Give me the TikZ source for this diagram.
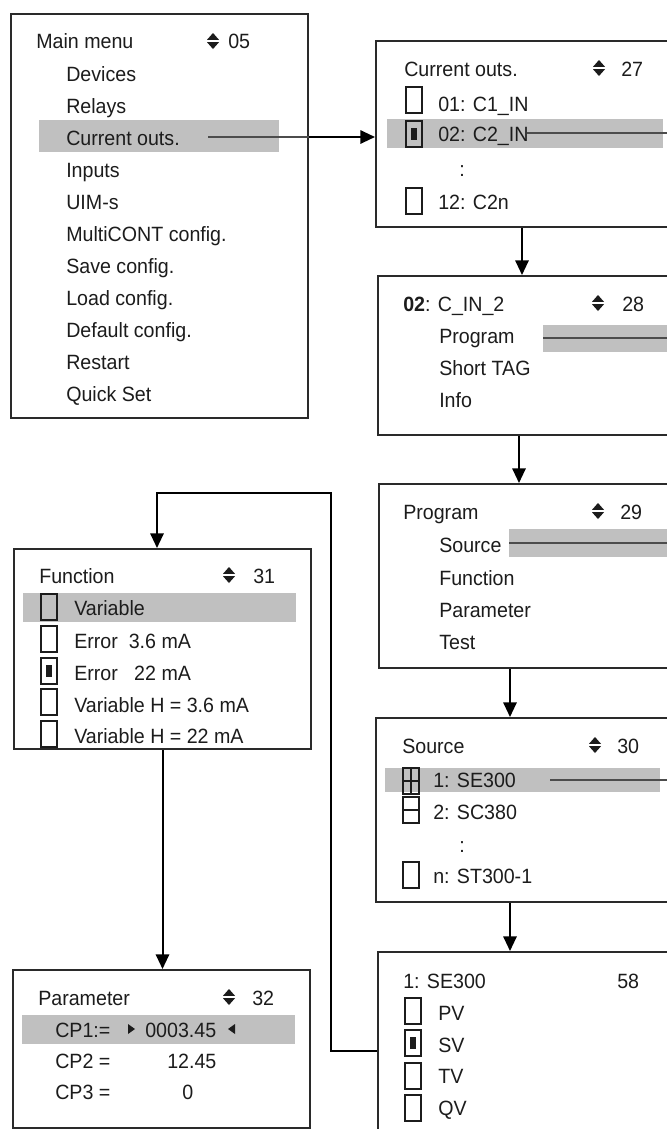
\documentclass[tikz,border=0pt]{standalone}
\usepackage{fontspec}
\setmainfont{Liberation Sans}[FakeStretch=0.95]
\usetikzlibrary{positioning,arrows.meta}
\definecolor{panelink}{HTML}{1C1C1C}
\definecolor{selgray}{HTML}{C0C0C0}
\definecolor{frameink}{HTML}{2A2A2A}

\begin{document}
\begin{tikzpicture}[x=0.75pt, y=-0.75pt,
  screen/.style={draw=frameink, line width=1.5pt, anchor=north west, inner sep=0pt},
  lbl/.style={anchor=base west, inner sep=0pt, text=panelink, font=\fontsize{15.5}{18}\selectfont},
  chk/.style={draw=panelink, line width=0.9pt, minimum width=12pt, minimum height=19.5pt, inner sep=0pt},
  chkon/.style={chk, path picture={\fill[panelink] ([xshift=-2.3pt,yshift=-4.8pt]path picture bounding box.center) rectangle ([xshift=2.3pt,yshift=4.8pt]path picture bounding box.center);}},
  chkplus/.style={chk, path picture={\draw[panelink, line width=0.9pt] (path picture bounding box.west) -- (path picture bounding box.east); \draw[panelink, line width=1.8pt] (path picture bounding box.north) -- (path picture bounding box.south);}},
  chkminus/.style={chk, path picture={\draw[panelink, line width=0.9pt] (path picture bounding box.west) -- (path picture bounding box.east);}},
  link/.style={line width=1.5pt, draw=black},
  arr/.style={link, -{Triangle[length=11pt,width=10pt]}},
  selline/.style={line width=0.8pt, draw=black!70},
  updown/.pic={\fill[panelink] (-6,-1.2) -- (6,-1.2) -- (0,-8) -- cycle; \fill[panelink] (-6,1.2) -- (6,1.2) -- (0,8) -- cycle;}
]
\useasboundingbox (0,0) rectangle (667,1129);
\clip (0,0) rectangle (667,1129);
\fill[white] (0,0) rectangle (667,1129);

% main menu
\node[screen, minimum width=222.75pt, minimum height=303pt] (main) at (10,13) {};
\fill[selgray] (39,120) rectangle (279,152);
\node[lbl] (mtitle) at (36,48) {Main menu};
\pic (mupd) at (213,41) {updown};
\node[lbl] (mnum) at (228,48) {05};
\node[lbl] (mdev) at (66,81) {Devices};
\node[lbl] (mrel) at (66,113) {Relays};
\node[lbl] (mcur) at (66,145) {Current outs.};
\node[lbl] (minp) at (66,177) {Inputs};
\node[lbl] (muim) at (66,209) {UIM-s};
\node[lbl] (mmulti) at (66,241) {MultiCONT config.};
\node[lbl] (msave) at (66,273) {Save config.};
\node[lbl] (mload) at (66,305) {Load config.};
\node[lbl] (mdef) at (66,337) {Default config.};
\node[lbl] (mrest) at (66,369) {Restart};
\node[lbl] (mquick) at (66,401) {Quick Set};
\coordinate (hmain) at (208,137);

% current outputs
\node[screen, minimum width=247.5pt, minimum height=139.5pt] (cur) at (375,40) {};
\fill[selgray] (387,119) rectangle (663,148);
\node[lbl] (ctitle) at (404,76) {Current outs.};
\pic (cupd) at (599,68) {updown};
\node[lbl] (cnum) at (621,76) {27};
\node[chk] (cbox1) at (414,100) {};
\node[lbl] (cone) at (438,111) {01: C1\_IN};
\node[chkon] (cbox2) at (414,134) {};
\node[lbl] (ctwo) at (438,141) {02: C2\_IN};
\node[lbl] (cdots) at (459,176) {:};
\node[chk] (cbox3) at (414,201) {};
\node[lbl] (ctwelve) at (438,209) {12: C2n};
\coordinate (hcur) at (527,133);

% channel
\node[screen, minimum width=247.5pt, minimum height=119.25pt] (chan) at (377,275) {};
\fill[selgray] (543,325) rectangle (700,352);
\node[lbl] (chtitle) at (403,311) {\bfseries 02\mdseries: C\_IN\_2};
\pic (chupd) at (598,303) {updown};
\node[lbl] (chnum) at (622,311) {28};
\node[lbl] (chprog) at (439,343) {Program};
\node[lbl] (chtag) at (439,375) {Short TAG};
\node[lbl] (chinfo) at (439,407) {Info};
\coordinate (hchan) at (543,338);

% program
\node[screen, minimum width=247.5pt, minimum height=138pt] (prog) at (378,483) {};
\fill[selgray] (509,529) rectangle (700,557);
\node[lbl] (ptitle) at (403,519) {Program};
\pic (pupd) at (598,511) {updown};
\node[lbl] (pnum) at (620,519) {29};
\node[lbl] (psrc) at (439,552) {Source};
\node[lbl] (pfunc) at (439,585) {Function};
\node[lbl] (ppar) at (439,617) {Parameter};
\node[lbl] (ptest) at (439,649) {Test};
\coordinate (hprog) at (509,543);

% source
\node[screen, minimum width=247.5pt, minimum height=138pt] (src) at (375,717) {};
\fill[selgray] (385,768) rectangle (660,792);
\node[lbl] (stitle) at (402,753) {Source};
\pic (supd) at (595,745) {updown};
\node[lbl] (snum) at (617,753) {30};
\node[chkplus] (sbox1) at (411,781) {};
\node[lbl] (sone) at (433,787) {1: SE300};
\node[chkminus] (sbox2) at (411,810) {};
\node[lbl] (stwo) at (433,819) {2: SC380};
\node[lbl] (sdots) at (459,852) {:};
\node[chk] (sbox3) at (411,875) {};
\node[lbl] (sn) at (433,883) {n: ST300-1};
\coordinate (hsrc) at (550,780);

% selected source
\node[screen, minimum width=247.5pt, minimum height=150pt] (sel) at (377,951) {};
\node[lbl] (etitle) at (403,988) {1: SE300};
\node[lbl] (enum) at (617,988) {58};
\node[chk] (ebox1) at (413,1011) {};
\node[lbl] (epv) at (438,1020) {PV};
\node[chkon] (ebox2) at (413,1043) {};
\node[lbl] (esv) at (438,1052) {SV};
\node[chk] (ebox3) at (413,1076) {};
\node[lbl] (etv) at (438,1083) {TV};
\node[chk] (ebox4) at (413,1108) {};
\node[lbl] (eqv) at (438,1115) {QV};

% function
\node[screen, minimum width=222.75pt, minimum height=150pt] (func) at (13,548) {};
\fill[selgray] (23,593) rectangle (296,622);
\node[lbl] (ftitle) at (39,583) {Function};
\pic (fupd) at (229,575) {updown};
\node[lbl] (fnum) at (253,583) {31};
\node[chk] (fbox1) at (49,607) {};
\node[lbl] (fvar) at (74,615) {Variable};
\node[chk] (fbox2) at (49,639) {};
\node[lbl] (ferrlo) at (74,648) {Error\ \ 3.6 mA};
\node[chkon] (fbox3) at (49,671) {};
\node[lbl] (ferrhi) at (74,680) {Error\ \ \ 22 mA};
\node[chk] (fbox4) at (49,702) {};
\node[lbl] (fvarlo) at (74,712) {Variable H = 3.6 mA};
\node[chk] (fbox5) at (49,734) {};
\node[lbl] (fvarhi) at (74,743) {Variable H = 22 mA};

% parameter
\node[screen, minimum width=222.75pt, minimum height=118.5pt] (param) at (12,969) {};
\fill[selgray] (22,1015) rectangle (295,1044);
\node[lbl] (qtitle) at (38,1005) {Parameter};
\pic (qupd) at (229,997) {updown};
\node[lbl] (qnum) at (252,1005) {32};
\node[lbl] (qcpa) at (55,1037) {CP1:=};
\fill[panelink] (128,1024) -- (128,1034) -- (135,1029) -- cycle;
\node[lbl] (qvala) at (145,1037) {0003.45};
\fill[panelink] (235,1024) -- (235,1034) -- (228,1029) -- cycle;
\node[lbl] (qcpb) at (55,1068) {CP2 =};
\node[lbl] (qvalb) at (167,1068) {12.45};
\node[lbl] (qcpc) at (55,1099) {CP3 =};
\node[lbl] (qvalc) at (182,1099) {0};

% connectors
\coordinate (downa) at (522,0);
\coordinate (downb) at (519,0);
\coordinate (downc) at (510,0);
\coordinate (bendlow) at (331,1051);
\coordinate (bendhigh) at (331,493);
\coordinate (bendleft) at (157,493);
\draw[selline] (hmain) -- (hmain -| main.east);
\draw[arr] (hmain -| main.east) -- (hmain -| cur.west);
\draw[selline] (hcur) -- (hcur -| cur.east);
\draw[selline] (hchan) -- (hchan -| chan.east);
\draw[selline] (hprog) -- (hprog -| prog.east);
\draw[selline] (hsrc) -- (hsrc -| src.east);
\draw[arr] (downa |- cur.south) -- (downa |- chan.north);
\draw[arr] (downb |- chan.south) -- (downb |- prog.north);
\draw[arr] (downc |- prog.south) -- (downc |- src.north);
\draw[arr] (downc |- src.south) -- (downc |- sel.north);
\draw[arr] (bendlow -| sel.west) -- (bendlow) -- (bendhigh) -- (bendleft) -- (bendleft |- func.north);
\draw[arr] (func.south) -- (func.south |- param.north);
\end{tikzpicture}
\end{document}
